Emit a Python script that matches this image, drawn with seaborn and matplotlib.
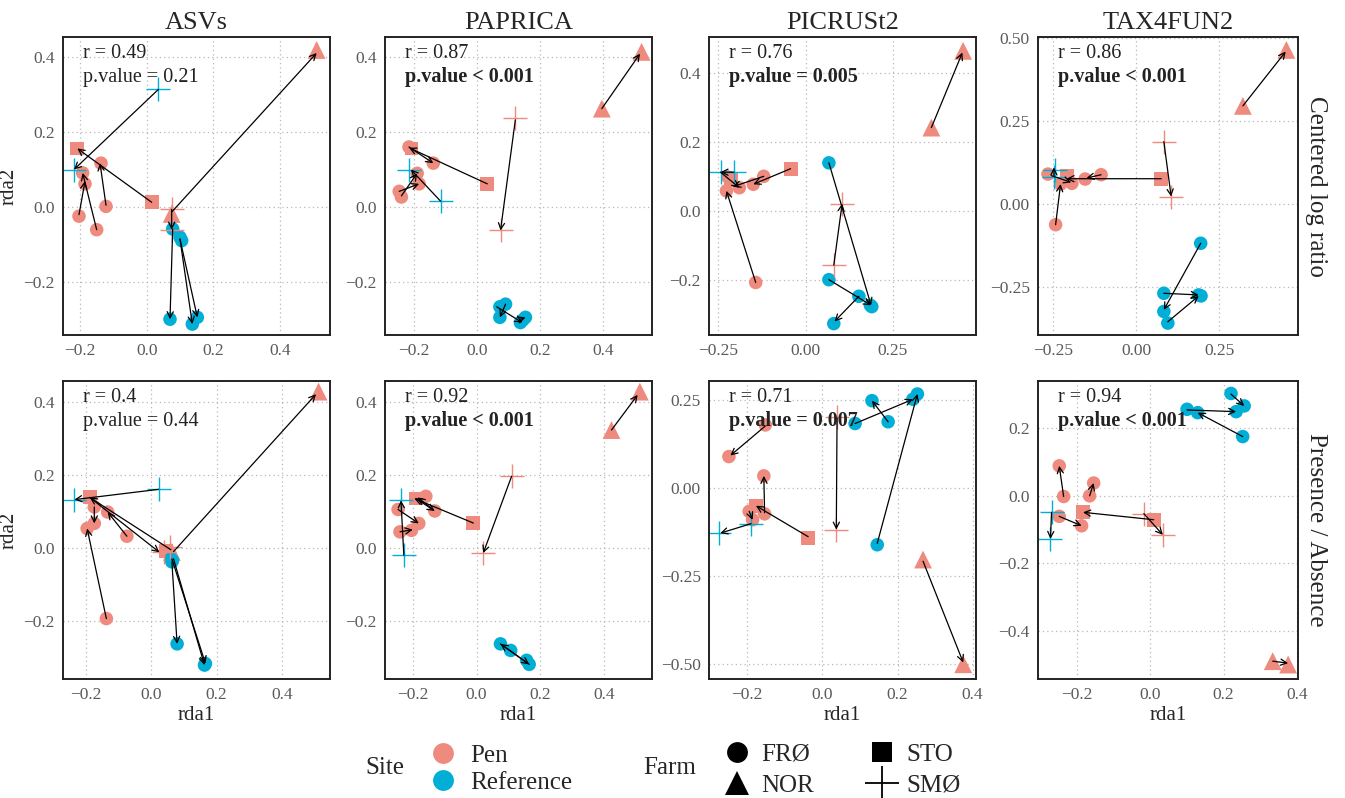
import pandas as pd
import numpy as np
import matplotlib.pyplot as plt
import seaborn as sns
from matplotlib.lines import Line2D

# ------------------------------
# DATA
# ------------------------------
methods = ["ASVs", "PAPRICA", "PICRUSt2", "TAX4FUN2"]
transforms = ["Centered log ratio", "Presence / Absence"]

r_values = [0.49, 0.87, 0.76, 0.86, 0.4, 0.92, 0.71, 0.94]
p_labels = ["p.value = 0.21", "p.value < 0.001", "p.value = 0.005", "p.value < 0.001",
            "p.value = 0.44", "p.value < 0.001", "p.value = 0.007", "p.value < 0.001"]
p_bold = [False, True, True, True, False, True, True, True]

# points: (rda1, rda2, Site, Farm)
asv_clr_points = [
    (0.510, 0.418, "Pen", "NOR"), (0.075, -0.018, "Pen", "NOR"),
    (0.035, 0.313, "Reference", "SMØ"), (-0.218, 0.100, "Reference", "SMØ"),
    (-0.208, 0.156, "Pen", "STO"), (0.015, 0.013, "Pen", "STO"),
    (-0.137, 0.117, "Pen", "FRØ"), (-0.192, 0.091, "Pen", "FRØ"), (-0.185, 0.062, "Pen", "FRØ"),
    (-0.203, -0.024, "Pen", "FRØ"), (-0.150, -0.060, "Pen", "FRØ"), (-0.122, 0.002, "Pen", "FRØ"),
    (0.075, -0.006, "Pen", "SMØ"), (0.075, -0.060, "Pen", "SMØ"),
    (0.078, -0.058, "Reference", "FRØ"), (0.105, -0.089, "Reference", "FRØ"), (0.100, -0.080, "Reference", "FRØ"),
    (0.070, -0.298, "Reference", "FRØ"), (0.137, -0.311, "Reference", "FRØ"), (0.152, -0.293, "Reference", "FRØ"),
]
# arrows: (x0, y0, x1, y1)
asv_clr_arrows = [
    (0.075, -0.013, 0.510, 0.410), (0.035, 0.313, -0.218, 0.100), (0.015, 0.013, -0.208, 0.156),
    (-0.203, -0.020, -0.185, 0.069), (-0.150, -0.060, -0.192, 0.091), (-0.122, 0.005, -0.140, 0.117),
    (0.075, -0.006, 0.075, -0.060), (0.078, -0.058, 0.070, -0.298), (0.100, -0.085, 0.137, -0.311),
    (0.100, -0.085, 0.152, -0.293),
]

paprica_clr_points = [
    (0.521, 0.413, "Pen", "NOR"), (0.395, 0.262, "Pen", "NOR"),
    (0.121, 0.236, "Pen", "SMØ"), (0.074, -0.062, "Pen", "SMØ"),
    (0.032, 0.062, "Pen", "STO"), (-0.208, 0.156, "Pen", "STO"),
    (-0.216, 0.160, "Pen", "FRØ"), (-0.139, 0.117, "Pen", "FRØ"), (-0.190, 0.090, "Pen", "FRØ"),
    (-0.184, 0.062, "Pen", "FRØ"), (-0.247, 0.042, "Pen", "FRØ"), (-0.240, 0.027, "Pen", "FRØ"),
    (-0.216, 0.100, "Reference", "SMØ"), (-0.116, 0.016, "Reference", "SMØ"),
    (0.072, -0.265, "Reference", "FRØ"), (0.090, -0.258, "Reference", "FRØ"), (0.072, -0.293, "Reference", "FRØ"),
    (0.137, -0.307, "Reference", "FRØ"), (0.153, -0.293, "Reference", "FRØ"), (0.145, -0.300, "Reference", "FRØ"),
]
paprica_clr_arrows = [
    (0.395, 0.262, 0.516, 0.408), (0.121, 0.232, 0.074, -0.062), (0.032, 0.062, -0.216, 0.158),
    (-0.216, 0.160, -0.139, 0.117), (-0.240, 0.030, -0.190, 0.090), (-0.247, 0.042, -0.184, 0.062),
    (-0.116, 0.016, -0.210, 0.100), (0.090, -0.258, 0.072, -0.293), (0.062, -0.265, 0.143, -0.307),
    (0.137, -0.298, 0.153, -0.293),
]

picrust_clr_points = [
    (0.452, 0.463, "Pen", "NOR"), (0.361, 0.241, "Pen", "NOR"),
    (-0.043, 0.122, "Pen", "STO"), (-0.215, 0.090, "Pen", "STO"),
    (-0.120, 0.100, "Pen", "FRØ"), (-0.150, 0.077, "Pen", "FRØ"), (-0.190, 0.067, "Pen", "FRØ"),
    (-0.223, 0.098, "Pen", "FRØ"), (-0.227, 0.058, "Pen", "FRØ"), (-0.143, -0.207, "Pen", "FRØ"),
    (-0.244, 0.112, "Reference", "SMØ"), (-0.206, 0.112, "Reference", "SMØ"),
    (0.105, 0.021, "Pen", "SMØ"), (0.081, -0.157, "Pen", "SMØ"),
    (0.067, 0.139, "Reference", "FRØ"), (0.067, -0.199, "Reference", "FRØ"), (0.153, -0.247, "Reference", "FRØ"),
    (0.186, -0.273, "Reference", "FRØ"), (0.081, -0.326, "Reference", "FRØ"), (0.190, -0.277, "Reference", "FRØ"),
]
picrust_clr_arrows = [
    (0.361, 0.241, 0.450, 0.458), (-0.043, 0.122, -0.150, 0.077), (-0.120, 0.100, -0.208, 0.070),
    (-0.244, 0.112, -0.190, 0.067), (-0.206, 0.112, -0.244, 0.112), (-0.143, -0.207, -0.227, 0.058),
    (0.081, -0.157, 0.105, 0.021), (0.067, 0.139, 0.188, -0.273), (0.067, -0.199, 0.188, -0.273),
    (0.153, -0.247, 0.083, -0.320),
]

tax_clr_points = [
    (0.452, 0.465, "Pen", "NOR"), (0.321, 0.296, "Pen", "NOR"),
    (0.083, 0.188, "Pen", "SMØ"), (0.105, 0.022, "Pen", "SMØ"),
    (0.075, 0.074, "Pen", "STO"), (-0.208, 0.085, "Pen", "STO"),
    (-0.106, 0.088, "Pen", "FRØ"), (-0.154, 0.075, "Pen", "FRØ"), (-0.194, 0.062, "Pen", "FRØ"),
    (-0.228, 0.060, "Pen", "FRØ"), (-0.266, 0.090, "Pen", "FRØ"), (-0.243, -0.063, "Pen", "FRØ"),
    (-0.246, 0.103, "Reference", "SMØ"), (-0.248, 0.080, "Reference", "SMØ"),
    (0.194, -0.119, "Reference", "FRØ"), (0.083, -0.270, "Reference", "FRØ"), (0.188, -0.275, "Reference", "FRØ"),
    (0.083, -0.325, "Reference", "FRØ"), (0.095, -0.360, "Reference", "FRØ"), (0.195, -0.278, "Reference", "FRØ"),
]
tax_clr_arrows = [
    (0.321, 0.296, 0.450, 0.460), (0.083, 0.188, 0.105, 0.022), (0.075, 0.076, -0.210, 0.076),
    (-0.106, 0.088, -0.150, 0.078), (-0.243, -0.063, -0.228, 0.060), (-0.255, 0.085, -0.196, 0.065),
    (-0.248, 0.085, -0.248, 0.110), (0.194, -0.119, 0.083, -0.320), (0.083, -0.270, 0.188, -0.275),
    (0.095, -0.356, 0.188, -0.278),
]

asv_pa_points = [
    (0.513, 0.427, "Pen", "NOR"), (0.063, -0.011, "Pen", "NOR"),
    (0.022, 0.160, "Reference", "SMØ"), (-0.236, 0.132, "Reference", "SMØ"),
    (-0.189, 0.138, "Pen", "STO"), (0.045, -0.008, "Pen", "STO"),
    (0.038, -0.012, "Pen", "SMØ"), (0.058, 0.003, "Pen", "SMØ"),
    (-0.175, 0.112, "Pen", "FRØ"), (-0.175, 0.067, "Pen", "FRØ"), (-0.197, 0.053, "Pen", "FRØ"),
    (-0.134, 0.098, "Pen", "FRØ"), (-0.075, 0.032, "Pen", "FRØ"), (-0.138, -0.193, "Pen", "FRØ"),
    (0.063, -0.038, "Reference", "FRØ"), (0.079, -0.262, "Reference", "FRØ"), (0.166, -0.316, "Reference", "FRØ"),
    (0.163, -0.320, "Reference", "FRØ"), (0.060, -0.030, "Reference", "FRØ"), (0.065, -0.034, "Reference", "FRØ"),
]
asv_pa_arrows = [
    (0.068, -0.010, 0.505, 0.420), (0.022, 0.160, -0.236, 0.132), (0.060, -0.005, -0.189, 0.138),
    (-0.189, 0.138, 0.025, -0.012), (-0.175, 0.112, -0.175, 0.067), (-0.075, 0.032, -0.134, 0.098),
    (-0.138, -0.193, -0.197, 0.053), (0.063, -0.038, 0.079, -0.262), (0.063, -0.030, 0.166, -0.316),
    (0.068, -0.030, 0.163, -0.320),
]

paprica_pa_points = [
    (0.512, 0.427, "Pen", "NOR"), (0.423, 0.322, "Pen", "NOR"),
    (0.110, 0.196, "Pen", "SMØ"), (0.021, -0.014, "Pen", "SMØ"),
    (-0.010, 0.068, "Pen", "STO"), (-0.190, 0.135, "Pen", "STO"),
    (-0.159, 0.141, "Pen", "FRØ"), (-0.131, 0.101, "Pen", "FRØ"), (-0.246, 0.105, "Pen", "FRØ"),
    (-0.181, 0.067, "Pen", "FRØ"), (-0.240, 0.044, "Pen", "FRØ"), (-0.204, 0.048, "Pen", "FRØ"),
    (-0.237, 0.130, "Reference", "SMØ"), (-0.228, -0.020, "Reference", "SMØ"),
    (0.075, -0.262, "Reference", "FRØ"), (0.107, -0.280, "Reference", "FRØ"), (0.157, -0.307, "Reference", "FRØ"),
    (0.165, -0.318, "Reference", "FRØ"),
]
paprica_pa_arrows = [
    (0.423, 0.322, 0.505, 0.418), (0.110, 0.196, 0.021, -0.014), (-0.010, 0.068, -0.195, 0.135),
    (-0.190, 0.135, -0.131, 0.101), (-0.135, 0.104, -0.185, 0.138), (-0.246, 0.105, -0.181, 0.067),
    (-0.240, 0.044, -0.200, 0.050), (-0.228, -0.020, -0.237, 0.130), (0.165, -0.318, 0.075, -0.262),
    (0.075, -0.262, 0.165, -0.318),
]

picrust_pa_points = [
    (-0.152, 0.180, "Pen", "FRØ"), (-0.249, 0.090, "Pen", "FRØ"), (-0.156, 0.035, "Pen", "FRØ"),
    (-0.195, -0.066, "Pen", "FRØ"), (-0.186, -0.090, "Pen", "FRØ"), (-0.154, -0.073, "Pen", "FRØ"),
    (-0.177, -0.050, "Pen", "STO"), (-0.038, -0.142, "Pen", "STO"),
    (-0.190, -0.101, "Reference", "SMØ"), (-0.275, -0.128, "Reference", "SMØ"),
    (0.039, 0.203, "Pen", "SMØ"), (0.037, -0.118, "Pen", "SMØ"),
    (0.087, 0.184, "Reference", "FRØ"), (0.132, 0.249, "Reference", "FRØ"), (0.175, 0.189, "Reference", "FRØ"),
    (0.241, 0.253, "Reference", "FRØ"), (0.253, 0.268, "Reference", "FRØ"), (0.146, -0.161, "Reference", "FRØ"),
    (0.268, -0.203, "Pen", "NOR"), (0.375, -0.501, "Pen", "NOR"),
]
picrust_pa_arrows = [
    (-0.152, 0.177, -0.245, 0.093), (-0.154, -0.070, -0.156, 0.035), (-0.038, -0.138, -0.177, -0.050),
    (-0.195, -0.066, -0.186, -0.090), (-0.190, -0.101, -0.272, -0.128), (0.039, 0.200, 0.037, -0.118),
    (0.087, 0.184, 0.241, 0.253), (0.175, 0.189, 0.132, 0.249), (0.146, -0.157, 0.253, 0.268),
    (0.268, -0.208, 0.375, -0.496),
]

tax_pa_points = [
    (0.220, 0.304, "Reference", "FRØ"), (0.256, 0.267, "Reference", "FRØ"), (0.234, 0.250, "Reference", "FRØ"),
    (0.100, 0.257, "Reference", "FRØ"), (0.129, 0.247, "Reference", "FRØ"), (0.252, 0.176, "Reference", "FRØ"),
    (-0.249, 0.089, "Pen", "FRØ"), (-0.237, -0.002, "Pen", "FRØ"), (-0.155, 0.038, "Pen", "FRØ"),
    (-0.166, 0.000, "Pen", "FRØ"), (-0.249, -0.061, "Pen", "FRØ"), (-0.188, -0.089, "Pen", "FRØ"),
    (-0.270, -0.049, "Reference", "SMØ"), (-0.273, -0.128, "Reference", "SMØ"),
    (-0.184, -0.049, "Pen", "STO"), (0.009, -0.071, "Pen", "STO"),
    (-0.018, -0.053, "Pen", "SMØ"), (0.034, -0.116, "Pen", "SMØ"),
    (0.334, -0.491, "Pen", "NOR"), (0.376, -0.501, "Pen", "NOR"),
]
tax_pa_arrows = [
    (0.220, 0.302, 0.256, 0.267), (0.100, 0.255, 0.234, 0.250), (0.252, 0.176, 0.129, 0.247),
    (-0.237, -0.002, -0.249, 0.089), (-0.166, 0.000, -0.155, 0.038), (-0.249, -0.061, -0.188, -0.089),
    (-0.270, -0.049, -0.273, -0.128), (0.009, -0.071, -0.184, -0.049), (-0.018, -0.053, 0.034, -0.116),
    (0.334, -0.491, 0.376, -0.497),
]

# axis ranges / ticks per panel (free scales)
xlims = [(-0.251, 0.55), (-0.292, 0.554), (-0.277, 0.489), (-0.296, 0.487),
         (-0.271, 0.548), (-0.287, 0.55), (-0.302, 0.409), (-0.307, 0.403)]
ylims = [(-0.34, 0.4525), (-0.34, 0.4525), (-0.359, 0.503), (-0.396, 0.504),
         (-0.358, 0.456), (-0.358, 0.456), (-0.543, 0.305), (-0.544, 0.341)]
xticks = [[-0.2, 0.0, 0.2, 0.4], [-0.2, 0.0, 0.2, 0.4], [-0.25, 0.0, 0.25], [-0.25, 0.0, 0.25],
          [-0.2, 0.0, 0.2, 0.4], [-0.2, 0.0, 0.2, 0.4], [-0.2, 0.0, 0.2, 0.4], [-0.2, 0.0, 0.2, 0.4]]
yticks = [[-0.2, 0.0, 0.2, 0.4], [-0.2, 0.0, 0.2, 0.4], [-0.2, 0.0, 0.2, 0.4], [-0.25, 0.0, 0.25, 0.5],
          [-0.2, 0.0, 0.2, 0.4], [-0.2, 0.0, 0.2, 0.4], [-0.5, -0.25, 0.0, 0.25], [-0.4, -0.2, 0.0, 0.2]]
xtick_fmt = ["{:.1f}", "{:.1f}", "{:.2f}", "{:.2f}", "{:.1f}", "{:.1f}", "{:.1f}", "{:.1f}"]
ytick_fmt = ["{:.1f}", "{:.1f}", "{:.1f}", "{:.2f}", "{:.1f}", "{:.1f}", "{:.2f}", "{:.1f}"]

panel_points = [asv_clr_points, paprica_clr_points, picrust_clr_points, tax_clr_points,
                asv_pa_points, paprica_pa_points, picrust_pa_points, tax_pa_points]
panel_arrows = [asv_clr_arrows, paprica_clr_arrows, picrust_clr_arrows, tax_clr_arrows,
                asv_pa_arrows, paprica_pa_arrows, picrust_pa_arrows, tax_pa_arrows]

# ------------------------------
# STYLE
# ------------------------------
sns.set_style("white")
plt.rcParams['font.family'] = ['Liberation Serif', 'DejaVu Serif']

site_colors = {"Pen": "#EE8A7E", "Reference": "#00AED6"}
farm_markers = {"FRØ": "o", "NOR": "^", "STO": "s"}
farm_sizes = {"FRØ": 95, "NOR": 165, "STO": 100}
tick_gray = "#5a5a5a"

W, H = 1345, 798
fig = plt.figure(figsize=(W / 100, H / 100), dpi=100)

col_lr = [(63, 330), (385, 652), (709, 976), (1038, 1298)]
row_tb = [(37, 335), (381, 679)]

for i in range(8):
    row, col = divmod(i, 4)
    l, r = col_lr[col]
    t, b = row_tb[row]
    ax = fig.add_axes([l / W, 1 - b / H, (r - l) / W, (b - t) / H])

    df = pd.DataFrame(panel_points[i], columns=["rda1", "rda2", "Site", "Farm"])
    filled = df[df["Farm"] != "SMØ"]
    plus = df[df["Farm"] == "SMØ"]

    ax.set_axisbelow(True)
    ax.grid(True, linestyle=(0, (1, 2.5)), color="#b8b8b8", linewidth=0.9)

    sns.scatterplot(data=filled, x="rda1", y="rda2", hue="Site", style="Farm", size="Farm",
                    palette=site_colors, markers=farm_markers, sizes=farm_sizes,
                    linewidth=0, legend=False, ax=ax, zorder=2)
    for site, grp in plus.groupby("Site"):
        ax.scatter(grp["rda1"], grp["rda2"], marker="+", s=300, color=site_colors[site],
                   linewidths=1.0, zorder=2)

    for x0, y0, x1, y1 in panel_arrows[i]:
        ax.annotate("", xy=(x1, y1), xytext=(x0, y0),
                    arrowprops=dict(arrowstyle="->", color="black", lw=0.9,
                                    shrinkA=0, shrinkB=0, mutation_scale=11),
                    zorder=3)

    ax.set_xlim(*xlims[i])
    ax.set_ylim(*ylims[i])
    ax.set_xticks(xticks[i])
    ax.set_yticks(yticks[i])
    ax.set_xticklabels([xtick_fmt[i].format(v).replace("-", "\u2212") for v in xticks[i]])
    ax.set_yticklabels([ytick_fmt[i].format(v).replace("-", "\u2212") for v in yticks[i]])
    ax.tick_params(axis="both", labelsize=12.5, colors=tick_gray, length=3, width=0.8, pad=3)

    for sp in ax.spines.values():
        sp.set_color("#222222")
        sp.set_linewidth(1.4)

    ax.set_xlabel("rda1" if row == 1 else "", fontsize=15, labelpad=2)
    ax.set_ylabel("rda2" if col == 0 else "", fontsize=15)
    ax.yaxis.set_label_coords(-0.165, 0.5)

    # stats text
    ax.text(0.075, 0.945, f"r = {r_values[i]}", transform=ax.transAxes,
            fontsize=14.5, va="center", ha="left", color="#222222")
    ax.text(0.075, 0.865, p_labels[i], transform=ax.transAxes, fontsize=14.5,
            va="center", ha="left", color="#222222",
            fontweight="bold" if p_bold[i] else "normal")

    if row == 0:
        ax.set_title(methods[col], fontsize=19, pad=6)
    if col == 3:
        ax.text(1.07, 0.5, transforms[row], transform=ax.transAxes, rotation=-90,
                fontsize=18, va="center", ha="center")

# ------------------------------
# LEGENDS
# ------------------------------
site_handles = [Line2D([], [], marker="o", linestyle="", markersize=15, markeredgewidth=0,
                       color=site_colors[s]) for s in ["Pen", "Reference"]]
fig.text(365 / W, 1 - 768 / H, "Site", fontsize=18, va="center", ha="left")
fig.legend(site_handles, ["Pen", "Reference"], loc="center left",
           bbox_to_anchor=(410 / W, 1 - 769 / H), frameon=False, fontsize=18,
           handletextpad=0.3, labelspacing=0.2, borderpad=0, handlelength=1.6)

farm_labels = ["FRØ", "NOR", "STO", "SMØ"]
farm_handles = [
    Line2D([], [], marker="o", linestyle="", markersize=15, markeredgewidth=0, color="black"),
    Line2D([], [], marker="^", linestyle="", markersize=17, markeredgewidth=0, color="black"),
    Line2D([], [], marker="s", linestyle="", markersize=15, markeredgewidth=0, color="black"),
    Line2D([], [], marker="+", linestyle="", markersize=24, markeredgewidth=1.3, color="black"),
]
fig.text(643 / W, 1 - 768 / H, "Farm", fontsize=18, va="center", ha="left")
fig.legend(farm_handles, farm_labels, loc="center left", ncol=2,
           bbox_to_anchor=(704 / W, 1 - 770 / H), frameon=False, fontsize=18,
           handletextpad=0.2, labelspacing=0.35, columnspacing=1.9, borderpad=0,
           handlelength=1.6)

plt.savefig("out.png", dpi=100)
